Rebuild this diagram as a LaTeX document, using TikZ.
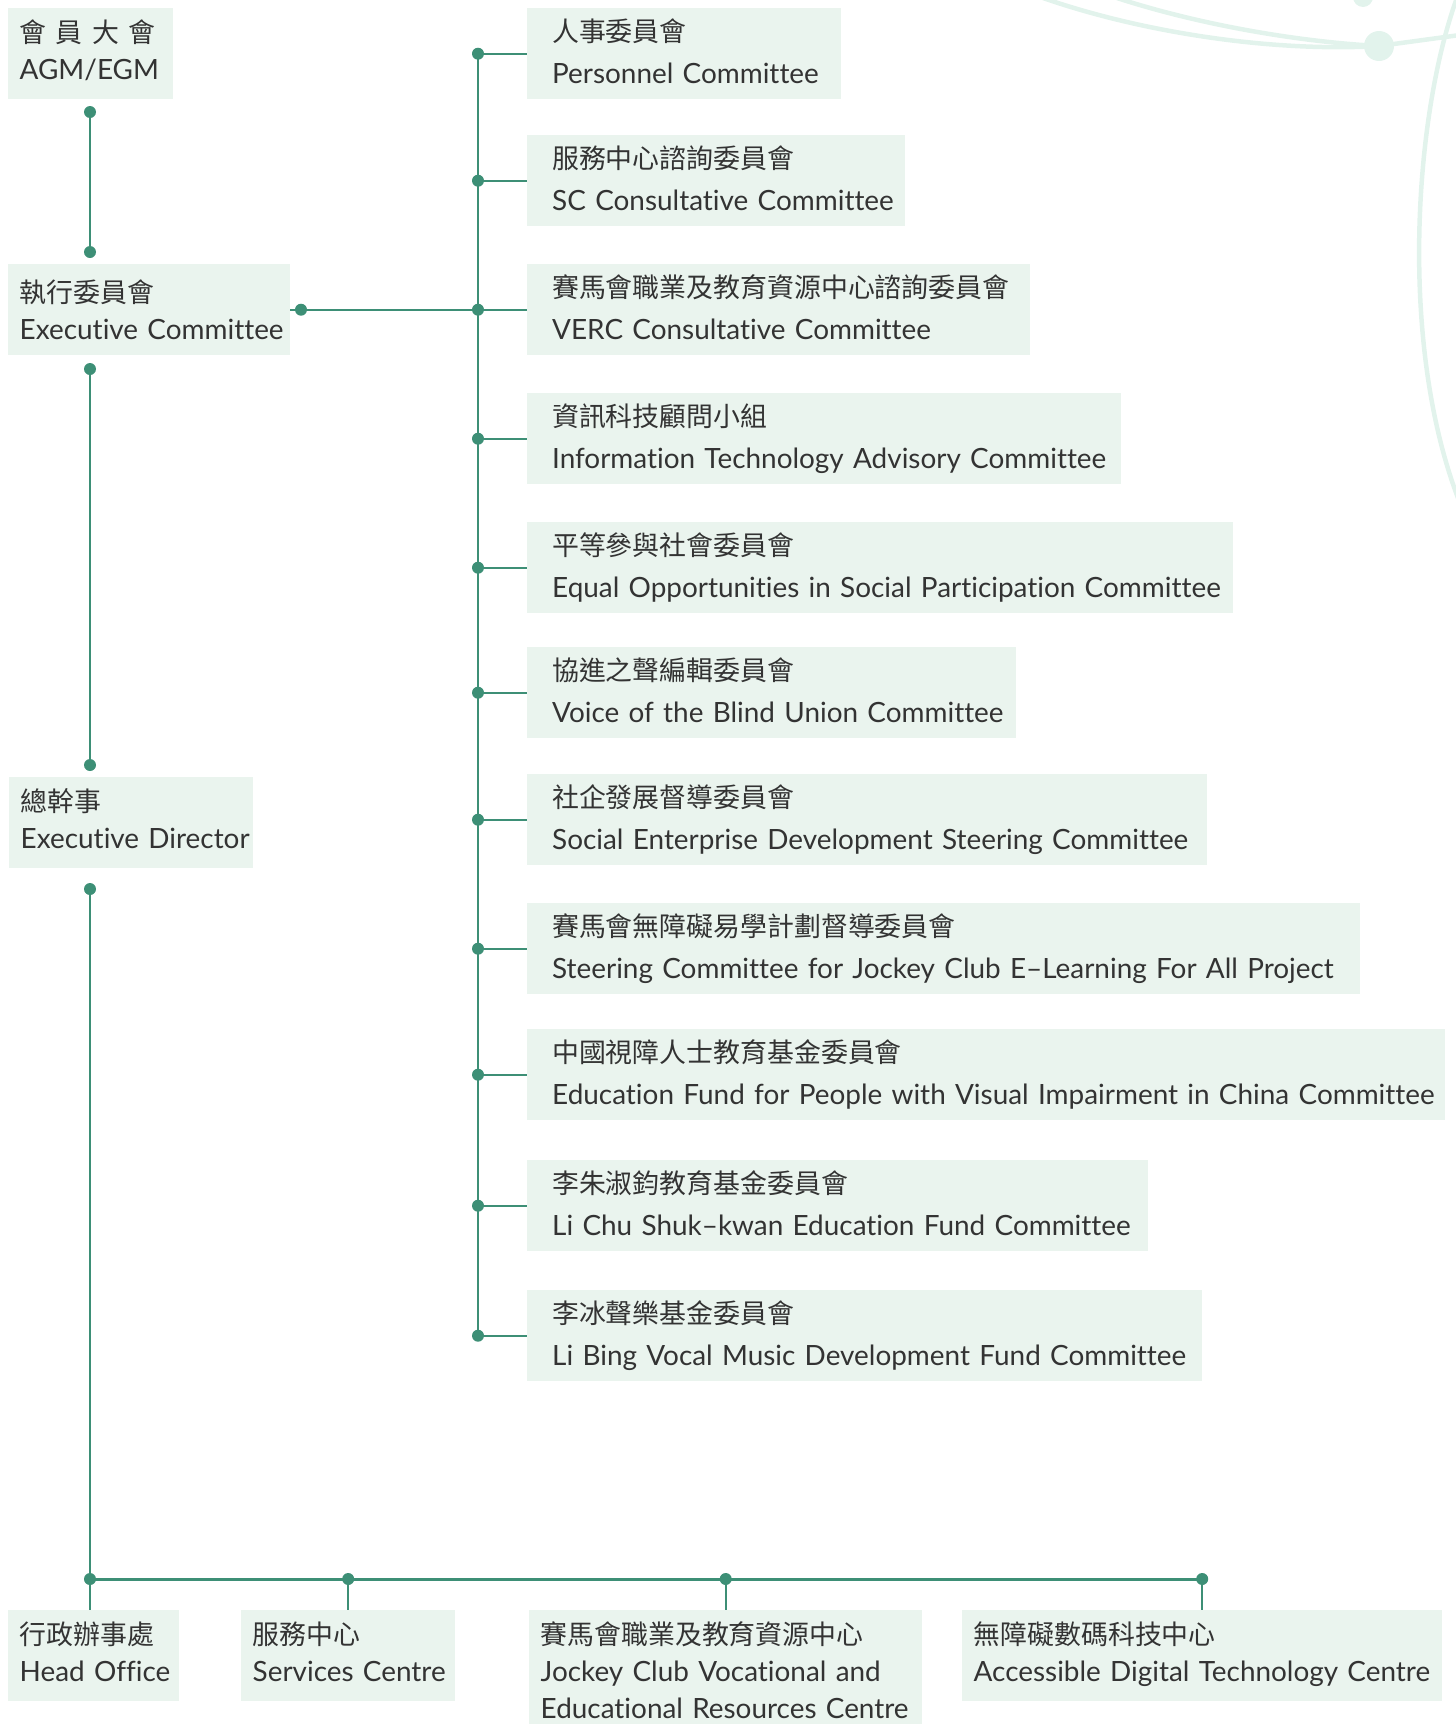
\documentclass[tikz,border=0pt]{standalone}
\usepackage{fontspec}
\setmainfont{Lato}[Ligatures=NoCommon]
\newfontfamily\zh{Noto Sans CJK TC}[Scale=0.964]
\definecolor{linegreen}{RGB}{61,143,118}
\definecolor{boxgreen}{RGB}{234,244,238}
\definecolor{arcgreen}{RGB}{226,243,236}
\definecolor{txt}{RGB}{51,51,51}
% two-line label: Chinese over English
\newcommand{\two}[2]{\mbox{\zh #1}\strut\\\mbox{#2}\strut}

\begin{document}
\begin{tikzpicture}[x=1pt,y=-1pt,
  unit/.style={fill=boxgreen, text=txt, anchor=north west, align=left,
    inner xsep=11.5pt, inner ysep=8.5pt, text width=#1,
    font=\fontsize{27.9}{37}\selectfont},
  cmte/.style={unit=#1, inner xsep=25pt, inner ysep=3.5pt,
    font=\fontsize{27.9}{42}\selectfont},
  link/.style={draw=linegreen, line width=2.2pt},
  dot/.style={fill=linegreen},
  deco/.style={draw=arcgreen, line width=4.5pt}]
  \useasboundingbox (0,0) rectangle (1456,1724);

  % background arcs, top right
  \draw[deco] (1043,-2) .. controls (1150,35) and (1280,52) .. (1379,46);
  \draw[deco] (1117,-2) .. controls (1200,25) and (1300,42) .. (1379,46);
  \draw[deco] (1379,46) -- (1460,35);
  \draw[deco] (1458,-5) .. controls (1415,110) and (1398,340) .. (1458,498);
  \fill[arcgreen] (1379,46) circle[radius=15pt];
  \fill[arcgreen] (1363,-3) circle[radius=10pt];

  % left column
  \node[unit=142pt] (agm) at (8,8) {\two{會 員 大 會}{AGM/EGM}};
  \node[unit=259pt, inner ysep=4.5pt] (exco) at (8,264)
    {\mbox{\zh 執行委員會}\rule{0pt}{33.9pt}\\\mbox{Executive Committee}\strut};
  \node[unit=221pt] (ed) at (9,777) {\two{總幹事}{Executive Director}};

  % committees
  \node[cmte=264pt] (pers) at (527,8) {\two{人事委員會}{Personnel Committee}};
  \node[cmte=328pt] (scc) at (527,135) {\two{服務中心諮詢委員會}{SC Consultative Committee}};
  \node[cmte=453pt] (verc) at (527,264) {\two{賽馬會職業及教育資源中心諮詢委員會}{VERC Consultative Committee}};
  \node[cmte=544pt] (itac) at (527,393) {\two{資訊科技顧問小組}{Information Technology Advisory Committee}};
  \node[cmte=656pt] (eosp) at (527,522) {\two{平等參與社會委員會}{Equal Opportunities in Social Participation Committee}};
  \node[cmte=439pt] (vbu) at (527,647) {\two{協進之聲編輯委員會}{Voice of the Blind Union Committee}};
  \node[cmte=630pt] (sed) at (527,774) {\two{社企發展督導委員會}{Social Enterprise Development Steering Committee}};
  \node[cmte=783pt] (jcel) at (527,903) {\two{賽馬會無障礙易學計劃督導委員會}{Steering Committee for Jockey Club E–Learning For All Project}};
  \node[cmte=868pt] (efvi) at (527,1029) {\two{中國視障人士教育基金委員會}{Education Fund for People with Visual Impairment in China Committee}};
  \node[cmte=571pt] (lcsk) at (527,1160) {\two{李朱淑鈞教育基金委員會}{Li Chu Shuk–kwan Education Fund Committee}};
  \node[cmte=625pt] (lbvm) at (527,1290) {\two{李冰聲樂基金委員會}{Li Bing Vocal Music Development Fund Committee}};

  % units
  \node[unit=148pt] (ho) at (8,1610) {\two{行政辦事處}{Head Office}};
  \node[unit=191pt] (svc) at (241,1610) {\two{服務中心}{Services Centre}};
  \node[unit=370pt] (jcv) at (529,1610) {\mbox{\zh 賽馬會職業及教育資源中心}\strut\\\mbox{Jockey Club Vocational and}\strut\\\mbox{Educational Resources Centre}\strut};
  \node[unit=457pt] (adtc) at (962,1610) {\two{無障礙數碼科技中心}{Accessible Digital Technology Centre}};

  \coordinate (a1) at (90,112);
  \coordinate (a2) at (90,252);
  \coordinate (a3) at (90,369);
  \coordinate (a4) at (90,765);
  \coordinate (a5) at (90,889);
  \coordinate (b0) at (90,1579);
  \coordinate (ex) at (301,310);
  \coordinate (sp) at (478,0);

  \draw[link] (a1) -- (a2);
  \draw[link] (a3) -- (a4);
  \draw[link] (a5) -- (b0);
  \draw[link] (exco.east) -- (sp |- exco.east);
  \draw[link] (sp |- pers.west) -- (sp |- lbvm.west);
  \foreach \c in {pers,scc,verc,itac,eosp,vbu,sed,jcel,efvi,lcsk,lbvm} {
    \draw[link] (sp |- \c.west) -- (\c.west);
    \fill[dot] (sp |- \c.west) circle[radius=6pt];
  }
  \draw[link, line width=3pt] (b0) -- (b0 -| adtc.north);
  \draw[link] (b0) -- (b0 |- ho.north);
  \foreach \c in {svc,jcv,adtc} {
    \draw[link] (b0 -| \c.north) -- (\c.north);
    \fill[dot] (b0 -| \c.north) circle[radius=6pt];
  }
  \foreach \p in {a1,a2,a3,a4,a5,b0} \fill[dot] (\p) circle[radius=6pt];
  \fill[dot] (ex |- exco.east) circle[radius=6pt];
\end{tikzpicture}
\end{document}
